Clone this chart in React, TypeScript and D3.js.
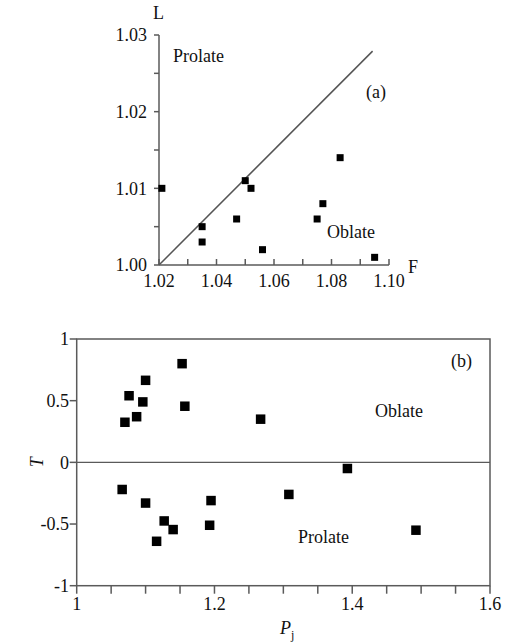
import React from "react";
import * as d3 from "d3";

// Panel (a): F vs L
const aF = [1.021, 1.050, 1.052, 1.035, 1.035, 1.047, 1.056, 1.075, 1.077, 1.083, 1.095];
const aL = [1.010, 1.011, 1.010, 1.005, 1.003, 1.006, 1.002, 1.006, 1.008, 1.014, 1.001];
const aXTicks = [1.02, 1.04, 1.06, 1.08, 1.10];
const aYTicks = [1.00, 1.01, 1.02, 1.03];
const aLine = [[1.02, 1.0], [1.0943, 1.0279]];

// Panel (b): Pj vs T
const bPj = [1.153, 1.100, 1.076, 1.096, 1.157, 1.087, 1.070, 1.267, 1.393, 1.066, 1.100, 1.195, 1.308, 1.127, 1.140, 1.193, 1.116, 1.4925];
const bT = [0.80, 0.665, 0.54, 0.49, 0.455, 0.37, 0.325, 0.35, -0.05, -0.22, -0.33, -0.31, -0.26, -0.475, -0.545, -0.51, -0.64, -0.55];
const bXTicks = [1, 1.2, 1.4, 1.6];
const bYTicks = [-1, -0.5, 0, 0.5, 1];

const FONT = "'Liberation Serif', 'Times New Roman', serif";
const AXIS = "#5a5a5a";

export default function App() {
  // panel a scales
  const ax = d3.scaleLinear().domain([1.02, 1.10]).range([159, 389]);
  const ay = d3.scaleLinear().domain([1.0, 1.03]).range([265, 35]);
  const aMinorY = d3.range(0, 7).map((i) => 1.0 + i * 0.005);
  const aMinorX = d3.range(0, 9).map((i) => 1.02 + i * 0.01);
  const lineGen = d3.line<number[]>().x((d) => ax(d[0])).y((d) => ay(d[1]));

  // panel b scales
  const bx = d3.scaleLinear().domain([1, 1.6]).range([76.7, 490]);
  const by = d3.scaleLinear().domain([-1, 1]).range([585.7, 339]);
  const bMinorX = d3.range(0, 13).map((i) => 1 + i * 0.05);

  const ms = 7;
  const mb = 9.5;

  return (
    <svg
      width={511}
      height={642}
      style={{ position: "absolute", left: 0, top: 0, background: "#fff" }}
      fontFamily={FONT}
    >
      <rect x={0} y={0} width={511} height={642} fill="#fff" />
      {/* Panel (a) */}
      <g>
        <line x1={ax(1.02)} x2={ax(1.10)} y1={ay(1.0)} y2={ay(1.0)} stroke={AXIS} strokeWidth={1.5} />
        <line x1={ax(1.02)} x2={ax(1.02)} y1={ay(1.0)} y2={ay(1.03)} stroke={AXIS} strokeWidth={1.5} />
        {aMinorY.map((v, i) => (
          <line key={"ay" + i} x1={ax(1.02) - 5} x2={ax(1.02)} y1={ay(v)} y2={ay(v)} stroke={AXIS} strokeWidth={1.5} />
        ))}
        {aMinorX.map((v, i) => (
          <line key={"ax" + i} x1={ax(v)} x2={ax(v)} y1={ay(1.0)} y2={ay(1.0) - 6} stroke={AXIS} strokeWidth={1.5} />
        ))}
        {aYTicks.map((v) => (
          <text key={"ayt" + v} x={147} y={ay(v)} dy="0.35em" textAnchor="end" fontSize={18} fill="#111">
            {v.toFixed(2)}
          </text>
        ))}
        {aXTicks.map((v) => (
          <text key={"axt" + v} x={ax(v)} y={287} textAnchor="middle" fontSize={18} fill="#111">
            {v.toFixed(2)}
          </text>
        ))}
        <path d={lineGen(aLine) || ""} stroke="#555" strokeWidth={1.5} fill="none" />
        {aF.map((f, i) => (
          <rect key={"pa" + i} x={ax(f) - ms / 2} y={ay(aL[i]) - ms / 2} width={ms} height={ms} fill="#000" />
        ))}
        <text x={153} y={19} fontSize={18} fill="#111">L</text>
        <text x={408} y={273} fontSize={18} fill="#111">F</text>
        <text x={173} y={62} fontSize={18} fill="#111">Prolate</text>
        <text x={366} y={98} fontSize={18} fill="#111">(a)</text>
        <text x={327} y={238} fontSize={18} fill="#111">Oblate</text>
      </g>

      {/* Panel (b) */}
      <g>
        <rect x={bx(1)} y={by(1)} width={bx(1.6) - bx(1)} height={by(-1) - by(1)} fill="none" stroke={AXIS} strokeWidth={1.5} />
        <line x1={bx(1)} x2={bx(1.6)} y1={by(0)} y2={by(0)} stroke={AXIS} strokeWidth={1.2} />
        {bYTicks.map((v) => (
          <g key={"byt" + v}>
            <line x1={bx(1) - 7} x2={bx(1)} y1={by(v)} y2={by(v)} stroke={AXIS} strokeWidth={1.5} />
            <text x={69} y={by(v)} dy="0.35em" textAnchor="end" fontSize={18} fill="#111">
              {String(v)}
            </text>
          </g>
        ))}
        {bMinorX.map((v, i) => (
          <line key={"bx" + i} x1={bx(v)} x2={bx(v)} y1={by(-1)} y2={by(-1) + 8} stroke={AXIS} strokeWidth={1.5} />
        ))}
        {bXTicks.map((v) => (
          <text key={"bxt" + v} x={bx(v)} y={610} textAnchor="middle" fontSize={18} fill="#111">
            {String(v)}
          </text>
        ))}
        {bPj.map((p, i) => (
          <rect key={"pb" + i} x={bx(p) - mb / 2} y={by(bT[i]) - mb / 2} width={mb} height={mb} fill="#000" />
        ))}
        <text x={451} y={367} fontSize={18} fill="#111">(b)</text>
        <text x={375} y={417} fontSize={18} fill="#111">Oblate</text>
        <text x={298} y={543} fontSize={18} fill="#111">Prolate</text>
        <text x={280} y={634} fontSize={18} fontStyle="italic" fill="#111">
          P<tspan fontSize={12} fontStyle="normal" dy={5}>j</tspan>
        </text>
        <text
          transform={`translate(43, ${by(0)}) rotate(-90)`}
          textAnchor="middle"
          fontSize={18}
          fontStyle="italic"
          fill="#111"
        >
          T
        </text>
      </g>
    </svg>
  );
}
